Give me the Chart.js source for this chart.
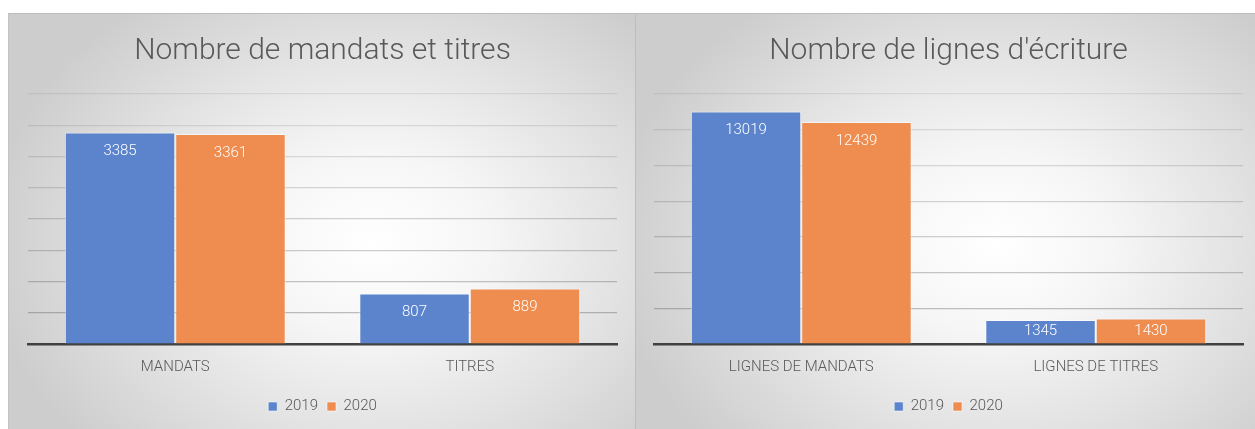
<!DOCTYPE html>
<html>
<head>
<meta charset="utf-8">
<script src="https://cdn.jsdelivr.net/npm/chart.js@4.4.1/dist/chart.umd.min.js"></script>
<style>
  html, body { margin: 0; padding: 0; background: #ffffff; width: 1255px; height: 429px; overflow: hidden; }
  .panel { position: absolute; top: 13px; height: 416px; box-sizing: border-box; border-top: 1px solid #bcbcbc;
    background: radial-gradient(ellipse 62% 72% at 58% 55%, #ffffff 0%, #f6f6f6 30%, #e2e2e2 65%, #cdcdcd 100%); }
  #pA { left: 8px; width: 627px; border-left: 1px solid #c4c4c4; }
  #pB { left: 635px; width: 620px; border-left: 1px solid #bdbdbd; }
  canvas { display: block; }
</style>
</head>
<body>
<div class="panel" id="pA"><canvas id="cA" width="626" height="415"></canvas></div>
<div class="panel" id="pB"><canvas id="cB" width="619" height="415"></canvas></div>
<script>
// ---- data ----
const seriesLabels = ['2019', '2020'];
const titleA = 'Nombre de mandats et titres';
const categoriesA = ['MANDATS', 'TITRES'];
const valuesA2019 = [3385, 807];
const valuesA2020 = [3361, 889];
const yMaxA = 4000, yStepA = 500;

const titleB = "Nombre de lignes d'écriture";
const categoriesB = ['LIGNES DE MANDATS', 'LIGNES DE TITRES'];
const valuesB2019 = [13019, 1345];
const valuesB2020 = [12439, 1430];
const yMaxB = 14000, yStepB = 2000;

// ---- style ----
const FONT = "Roboto, 'Liberation Sans', sans-serif";
const BLUE = 'rgb(91,132,205)';
const ORANGE = 'rgb(238,141,79)';
const TEXT = '#595959';

const barLabels = {
  id: 'barLabels',
  afterDatasetsDraw(chart) {
    const ctx = chart.ctx;
    ctx.save();
    ctx.fillStyle = '#ffffff';
    ctx.font = '300 15px ' + FONT;
    ctx.textAlign = 'center';
    ctx.textBaseline = 'middle';
    chart.data.datasets.forEach((ds, i) => {
      chart.getDatasetMeta(i).data.forEach((bar, j) => {
        const y = Math.min(bar.y + 19, (bar.y + bar.base) / 2);
        ctx.fillText(String(ds.data[j]), bar.x, y);
      });
    });
    ctx.restore();
  }
};

function makeChart(id, title, cats, v1, v2, yMax, yStep, padL, padR) {
  new Chart(document.getElementById(id), {
    type: 'bar',
    data: {
      labels: cats,
      datasets: [
        { label: seriesLabels[0], data: v1, backgroundColor: BLUE, borderColor: 'rgba(255,255,255,0.55)', borderWidth: 1, borderSkipped: 'bottom' },
        { label: seriesLabels[1], data: v2, backgroundColor: ORANGE, borderColor: 'rgba(255,255,255,0.55)', borderWidth: 1, borderSkipped: 'bottom' }
      ]
    },
    options: {
      responsive: false,
      animation: false,
      layout: { padding: { top: 0, bottom: 5, left: padL, right: padR } },
      datasets: { bar: { categoryPercentage: 0.75, barPercentage: 1.0 } },
      plugins: {
        title: { display: true, text: title, color: TEXT, font: { family: FONT, size: 30, weight: 300 }, padding: { top: 19, bottom: 25 } },
        legend: {
          position: 'bottom',
          labels: { color: TEXT, font: { family: FONT, size: 15, weight: 300 }, boxWidth: 9, boxHeight: 9, padding: 9 }
        },
        tooltip: { enabled: false }
      },
      scales: {
        x: {
          grid: { display: false, drawTicks: false },
          border: { display: true, color: '#404040', width: 2.5 },
          ticks: { color: TEXT, font: { family: FONT, size: 15, weight: 300 }, padding: 14 }
        },
        y: {
          min: 0, max: yMax,
          ticks: { display: false, stepSize: yStep },
          border: { display: false },
          grid: {
            drawTicks: false,
            lineWidth: 1.2,
            color: (c) => {
              const v = c.tick ? c.tick.value : 0;
              if (v === 0) return 'rgba(0,0,0,0)';
              const f = v / yMax;
              const a = 0.42 - 0.3 * f;
              return 'rgba(90,90,90,' + a.toFixed(3) + ')';
            }
          }
        }
      }
    },
    plugins: [barLabels]
  });
}

makeChart('cA', titleA, categoriesA, valuesA2019, valuesA2020, yMaxA, yStepA, 19, 18);
makeChart('cB', titleB, categoriesB, valuesB2019, valuesB2020, yMaxB, yStepB, 18, 12);
</script>
</body>
</html>
